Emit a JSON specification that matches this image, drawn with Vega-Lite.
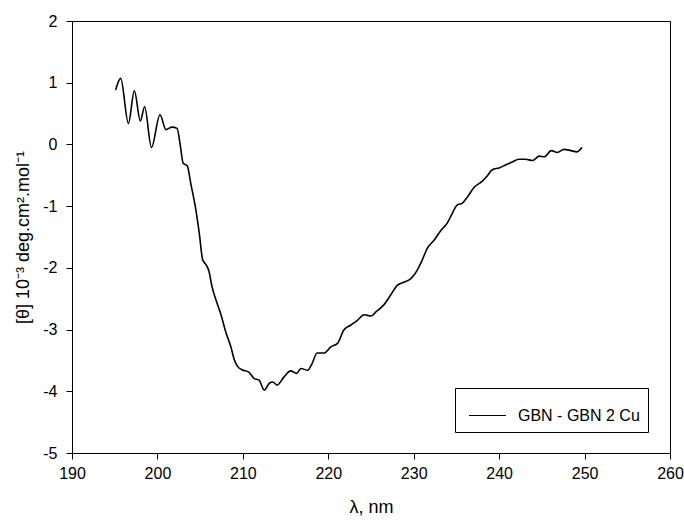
{
  "$schema": "https://vega.github.io/schema/vega-lite/v6.json",
  "width": 598,
  "height": 432,
  "autosize": "none",
  "padding": {"left": 72, "top": 21, "right": 14, "bottom": 69},
  "background": "white",
  "config": {
    "font": "Liberation Sans",
    "view": {"stroke": "#000", "strokeWidth": 1},
    "axis": {
      "grid": false,
      "domainColor": "#000",
      "tickColor": "#000",
      "labelColor": "#000",
      "titleColor": "#000",
      "labelFont": "Liberation Sans",
      "titleFont": "Liberation Sans",
      "labelFontSize": 16,
      "titleFontSize": 18,
      "titleFontWeight": "normal",
      "tickSize": 6,
      "labelExpr": "datum.value < 0 ? '-' + abs(datum.value) : '' + datum.value"
    }
  },
  "data": {
    "values": [
      {"nm": 195.1, "v": 0.88},
      {"nm": 195.7, "v": 1.07},
      {"nm": 196.6, "v": 0.34},
      {"nm": 197.3, "v": 0.87},
      {"nm": 198.0, "v": 0.38},
      {"nm": 198.5, "v": 0.61},
      {"nm": 199.3, "v": -0.05},
      {"nm": 200.3, "v": 0.48},
      {"nm": 201.0, "v": 0.24},
      {"nm": 201.7, "v": 0.28},
      {"nm": 202.3, "v": 0.26},
      {"nm": 202.7, "v": -0.04},
      {"nm": 203.0, "v": -0.30},
      {"nm": 203.5, "v": -0.35},
      {"nm": 203.9, "v": -0.63},
      {"nm": 204.5, "v": -1.06},
      {"nm": 204.9, "v": -1.44},
      {"nm": 205.3, "v": -1.87},
      {"nm": 205.7, "v": -1.95},
      {"nm": 206.0, "v": -2.04},
      {"nm": 206.4, "v": -2.31},
      {"nm": 207.0, "v": -2.58},
      {"nm": 207.4, "v": -2.74},
      {"nm": 208.0, "v": -3.04},
      {"nm": 208.6, "v": -3.28},
      {"nm": 209.0, "v": -3.49},
      {"nm": 209.4, "v": -3.60},
      {"nm": 209.9, "v": -3.65},
      {"nm": 210.7, "v": -3.69},
      {"nm": 211.3, "v": -3.79},
      {"nm": 211.9, "v": -3.82},
      {"nm": 212.5, "v": -3.98},
      {"nm": 213.1, "v": -3.87},
      {"nm": 213.5, "v": -3.85},
      {"nm": 214.0, "v": -3.90},
      {"nm": 214.8, "v": -3.77},
      {"nm": 215.6, "v": -3.67},
      {"nm": 216.3, "v": -3.71},
      {"nm": 216.8, "v": -3.63},
      {"nm": 217.6, "v": -3.66},
      {"nm": 218.1, "v": -3.55},
      {"nm": 218.7, "v": -3.38},
      {"nm": 219.5, "v": -3.38},
      {"nm": 220.3, "v": -3.28},
      {"nm": 221.1, "v": -3.22},
      {"nm": 221.8, "v": -3.01},
      {"nm": 222.6, "v": -2.93},
      {"nm": 223.4, "v": -2.85},
      {"nm": 224.2, "v": -2.76},
      {"nm": 225.0, "v": -2.78},
      {"nm": 225.6, "v": -2.71},
      {"nm": 226.5, "v": -2.60},
      {"nm": 227.3, "v": -2.44},
      {"nm": 228.1, "v": -2.28},
      {"nm": 228.9, "v": -2.23},
      {"nm": 229.7, "v": -2.17},
      {"nm": 230.4, "v": -2.04},
      {"nm": 231.0, "v": -1.87},
      {"nm": 231.6, "v": -1.68},
      {"nm": 232.4, "v": -1.55},
      {"nm": 233.2, "v": -1.39},
      {"nm": 233.9, "v": -1.28},
      {"nm": 234.5, "v": -1.12},
      {"nm": 235.1, "v": -0.98},
      {"nm": 235.7, "v": -0.95},
      {"nm": 236.3, "v": -0.85},
      {"nm": 237.1, "v": -0.69},
      {"nm": 238.0, "v": -0.60},
      {"nm": 238.6, "v": -0.51},
      {"nm": 239.2, "v": -0.41},
      {"nm": 240.0, "v": -0.38},
      {"nm": 240.8, "v": -0.33},
      {"nm": 241.6, "v": -0.28},
      {"nm": 242.3, "v": -0.24},
      {"nm": 243.1, "v": -0.24},
      {"nm": 243.9, "v": -0.26},
      {"nm": 244.7, "v": -0.19},
      {"nm": 245.3, "v": -0.20},
      {"nm": 246.1, "v": -0.10},
      {"nm": 246.8, "v": -0.13},
      {"nm": 247.6, "v": -0.08},
      {"nm": 248.4, "v": -0.10},
      {"nm": 249.1, "v": -0.12},
      {"nm": 249.7, "v": -0.05}
    ]
  },
  "transform": [{"calculate": "'GBN - GBN 2 Cu'", "as": "series"}],
  "mark": {"type": "line", "interpolate": "monotone", "strokeWidth": 1.6},
  "encoding": {
    "x": {
      "field": "nm",
      "type": "quantitative",
      "scale": {"domain": [190, 260], "nice": false, "zero": false},
      "axis": {"values": [190, 200, 210, 220, 230, 240, 250, 260], "title": "λ, nm", "titlePadding": 17, "labelPadding": 6, "labelFlush": false}
    },
    "y": {
      "field": "v",
      "type": "quantitative",
      "scale": {"domain": [-5, 2], "nice": false, "zero": false},
      "axis": {"values": [-5, -4, -3, -2, -1, 0, 1, 2], "title": "[θ] 10⁻³ deg.cm².mol⁻¹", "titlePadding": 10, "labelPadding": 9, "labelFlush": false, "titleFontSize": 18}
    },
    "color": {
      "field": "series",
      "type": "nominal",
      "scale": {"range": ["#000000"]},
      "legend": {
        "title": null,
        "orient": "none",
        "legendX": 383,
        "legendY": 367,
        "strokeColor": "#000",
        "padding": 8,
        "symbolOffset": 5,
        "symbolType": "stroke",
        "symbolSize": 1369,
        "symbolStrokeWidth": 1.2,
        "symbolStrokeColor": "#333",
        "labelFontSize": 16,
        "labelColor": "#000",
        "labelOffset": 11,
        "labelFont": "Liberation Sans"
      }
    }
  }
}
